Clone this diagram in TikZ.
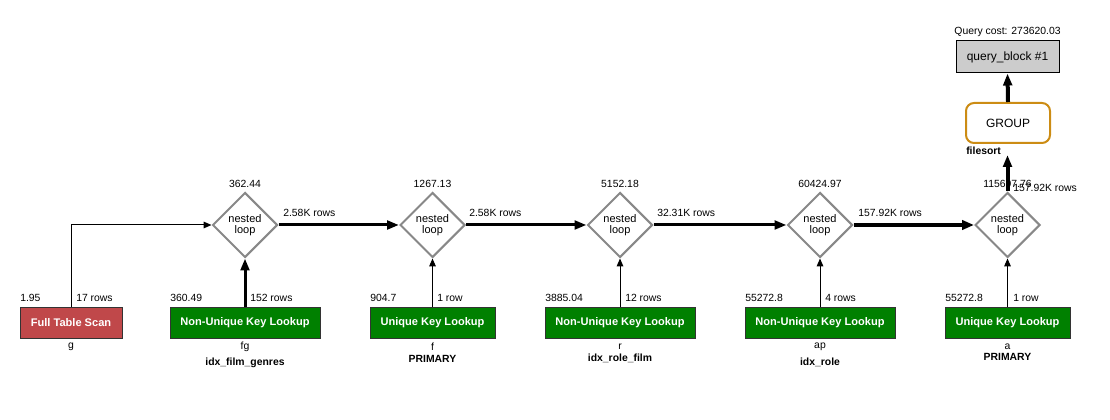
\documentclass[tikz,border=0pt]{standalone}
\usepackage{fontspec}
\setmainfont{Liberation Sans}
\usetikzlibrary{shapes.geometric,arrows.meta,calc}
\definecolor{scanred}{RGB}{192,72,74}
\definecolor{lookgreen}{RGB}{0,128,0}
\definecolor{diagray}{RGB}{136,136,136}
\definecolor{grouporange}{RGB}{204,140,20}
\definecolor{qbgray}{RGB}{204,204,204}
\begin{document}
\begin{tikzpicture}[x=0.75pt,y=-0.75pt,
  lbl/.style={font=\fontsize{7.8}{9}\selectfont, inner sep=0pt},
  lblw/.style={lbl, anchor=west},
  idx/.style={lbl, font=\fontsize{7.8}{9}\selectfont\bfseries},
  opbox/.style={draw=black!80, line width=0.75pt, minimum height=22.5pt, inner sep=0pt,
    text=white, font=\fontsize{8.3}{10}\selectfont\bfseries},
  scan/.style={opbox, fill=scanred, minimum width=76.5pt},
  nukl/.style={opbox, fill=lookgreen, minimum width=112.5pt},
  ukl/.style={opbox, fill=lookgreen, minimum width=93.75pt},
  loopnode/.style={diamond, draw=diagray, line width=1.5pt, minimum width=48.75pt,
    minimum height=48.75pt, inner sep=0pt, align=center,
    font=\fontsize{8.25}{8.6}\selectfont},
  thin/.style={line width=0.75pt, -{Triangle[length=6pt,width=5pt]}},
  thick/.style={line width=2.25pt, -{Triangle[length=9pt,width=6.5pt]}},
  thicker/.style={line width=3.4pt, -{Triangle[length=9pt,width=7pt]}},
]
\useasboundingbox (0,0) rectangle (1110,420);

% operation boxes
\node[scan] (fts) at (71,323) {Full Table Scan};
\node[nukl] (nukl1) at (245,323) {Non-Unique Key Lookup};
\node[ukl] (ukl1) at (432.5,323) {Unique Key Lookup};
\node[nukl] (nukl2) at (620,323) {Non-Unique Key Lookup};
\node[nukl] (nukl3) at (820,323) {Non-Unique Key Lookup};
\node[ukl] (ukl2) at (1007.5,323) {Unique Key Lookup};

% nested loops
\node[loopnode] (d1) at (245,225) {nested\\loop};
\node[loopnode] (d2) at (432.5,225) {nested\\loop};
\node[loopnode] (d3) at (620,225) {nested\\loop};
\node[loopnode] (d4) at (820,225) {nested\\loop};
\node[loopnode] (d5) at (1007.5,225) {nested\\loop};

% group and query block
\node[draw=grouporange, line width=1.5pt, rounded corners=6pt, fill=white,
  minimum width=63pt, minimum height=30pt, font=\fontsize{9}{11}\selectfont] (grp) at (1008,123) {GROUP};
\node[draw=black, line width=0.75pt, fill=qbgray, minimum width=77.25pt, minimum height=24pt,
  font=\fontsize{9}{11}\selectfont] (qb) at (1007.5,57) {query\_block \#1};
\node[lbl] (qcost) at (1007.5,32) {Query cost: 273620.03};
\node[idx, anchor=west] (fsort) at (966,151) {filesort};
\coordinate (gin) at (1007.5,155);

% cost labels
\node[lbl] (c1) at (245,184) {362.44};
\node[lbl] (c2) at (432.5,184) {1267.13};
\node[lbl] (c3) at (620,184) {5152.18};
\node[lbl] (c4) at (820,184) {60424.97};
\node[lbl] (c5) at (1007.5,184) {115697.76};
\node[lblw] (r5) at (1013,188) {157.92K rows};

% box cost / row labels
\node[lblw] (k0) at (20,298) {1.95};
\node[lblw] (n0) at (76,298) {17 rows};
\node[lblw] (k1) at (170,298) {360.49};
\node[lblw] (n1) at (250,298) {152 rows};
\node[lblw] (k2) at (370,298) {904.7};
\node[lblw] (n2) at (437,298) {1 row};
\node[lblw] (k3) at (545,298) {3885.04};
\node[lblw] (n3) at (625,298) {12 rows};
\node[lblw] (k4) at (745,298) {55272.8};
\node[lblw] (n4) at (825,298) {4 rows};
\node[lblw] (k5) at (945,298) {55272.8};
\node[lblw] (n5) at (1013,298) {1 row};

% table names and indexes
\node[lbl] (t0) at (71,347) {g};
\node[lbl] (t1) at (245,347) {fg};
\node[idx] (i1) at (245,363) {idx\_film\_genres};
\node[lbl] (t2) at (432.5,347) {f};
\node[idx] (i2) at (432.5,359) {PRIMARY};
\node[lbl] (t3) at (620,347) {r};
\node[idx] (i3) at (620,358) {idx\_role\_film};
\node[lbl] (t4) at (820,347) {ap};
\node[idx] (i4) at (820,362) {idx\_role};
\node[lbl] (t5) at (1007.5,347) {a};
\node[idx] (i5) at (1007.5,357) {PRIMARY};

% edge labels
\node[lblw] (e1) at (283,213) {2.58K rows};
\node[lblw] (e2) at (469,213) {2.58K rows};
\node[lblw] (e3) at (657,213) {32.31K rows};
\node[lblw] (e4) at (858,213) {157.92K rows};

% connectors
\draw[thin] (fts.north) |- (d1.west);
\draw[thick] (nukl1.north) -- (d1.south);
\draw[thin] (ukl1.north) -- (d2.south);
\draw[thin] (nukl2.north) -- (d3.south);
\draw[thin] (nukl3.north) -- (d4.south);
\draw[thin] (ukl2.north) -- (d5.south);
\draw[thick] (d1.east) -- (d2.west);
\draw[thick] (d2.east) -- (d3.west);
\draw[thick] (d3.east) -- (d4.west);
\draw[thicker] (d4.east) -- (d5.west);
\draw[thick, line width=3pt] (d5.north) -- (gin);
\draw[thick, line width=3pt] (grp.north) -- (qb.south);
\end{tikzpicture}
\end{document}
